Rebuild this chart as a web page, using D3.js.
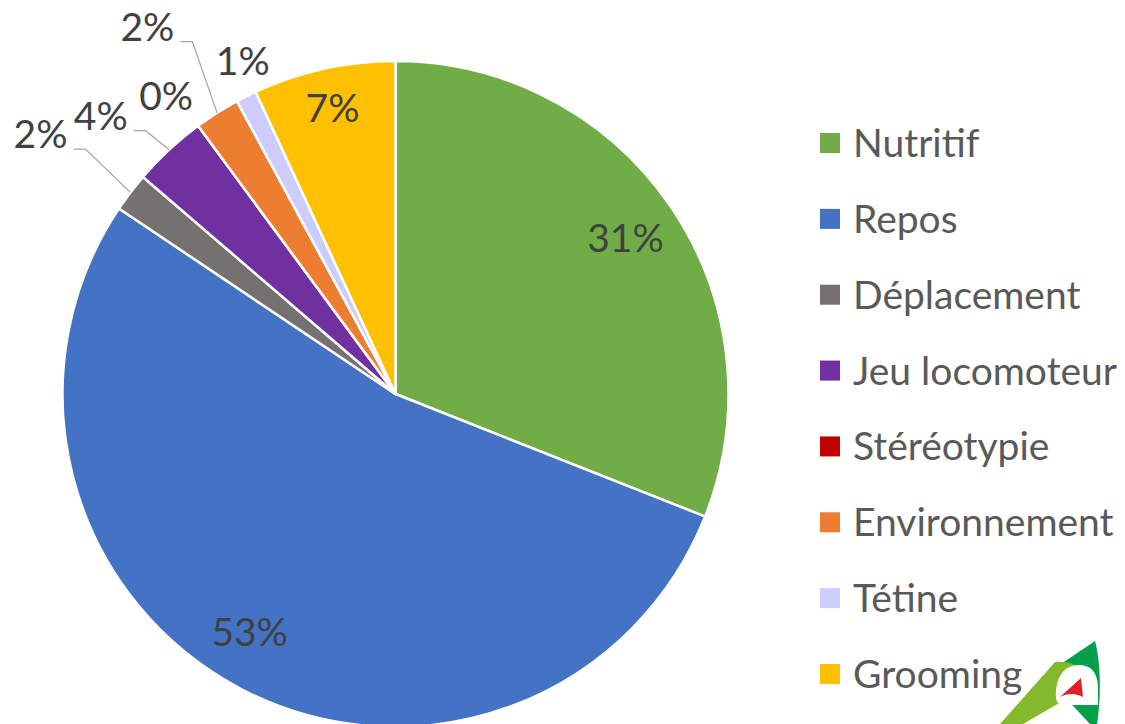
<!DOCTYPE html>
<html>
<head>
<meta charset="utf-8">
<script src="https://cdn.jsdelivr.net/npm/d3@7"></script>
<style>
  html, body { margin: 0; padding: 0; background: #fff; }
  svg { display: block; }
  text { font-family: Lato, "Open Sans", sans-serif; }
</style>
</head>
<body>
<svg id="chart" width="1125" height="724"></svg>
<script>
;(function() {
	"use strict";

	var categories = ["Nutritif", "Repos", "Déplacement", "Jeu locomoteur", "Stéréotypie", "Environnement", "Tétine", "Grooming"];
	var values = [31.0, 53.4, 1.9, 3.6, 0.0, 2.2, 1.0, 6.9];
	var colors = ["#70AD47", "#4472C4", "#767171", "#7030A0", "#C00000", "#ED7D31", "#CCCCFF", "#FFC000"];

	// label placement per slice: inside, outside, or outside with leader line
	var labelMode = ["in", "in", "leader", "leader", "out", "leader", "out", "in"];
	var labelRadius = [0.835, 0.838, 1.215, 1.115, 1.13, 1.24, 1.10, 0.88];
	var labelShift = [0, 3.8, 0, -2, -1.2, 1, 2, 0]; // degrees, nudges like Excel's best fit

	var width = 1125, height = 724,
		cx = 395.5, cy = 394, R = 333;

	var svg = d3.select("#chart");
	var g = svg.append("g").attr("transform", "translate(" + cx + "," + cy + ")");

	var rows = categories.map(function(c, i) {
		return { name: c, value: values[i], color: colors[i], mode: labelMode[i], lr: labelRadius[i], shift: labelShift[i] };
	});

	var pie = d3.pie().sort(null).value(function(d) { return d.value; });
	var arc = d3.arc().innerRadius(0).outerRadius(R);
	var arcs = pie(rows);

	g.selectAll("path.slice")
		.data(arcs)
		.enter().append("path")
		.attr("class", "slice")
		.attr("d", arc)
		.attr("fill", function(d) { return d.data.color; })
		.attr("stroke", "#fff")
		.attr("stroke-width", 2.5)
		.attr("stroke-linejoin", "round");

	function pt(angle, r) {
		return [Math.sin(angle) * r, -Math.cos(angle) * r];
	}

	var fontSize = 39;

	arcs.forEach(function(d) {
		var mid = (d.startAngle + d.endAngle) / 2,
			lab = mid + d.data.shift * Math.PI / 180,
			txt = d3.format(".0f")(d.data.value) + "%";

		if (d.data.mode === "leader") {
			var a = pt(lab, R * d.data.lr),
				edge = pt(mid, R * 1.0),
				elbow = [a[0] + 12, a[1]];
			g.append("polyline")
				.attr("points", [a, elbow, edge].map(function(p) { return p.join(","); }).join(" "))
				.attr("fill", "none")
				.attr("stroke", "#A6A6A6")
				.attr("stroke-width", 1.3);
			g.append("text")
				.attr("x", a[0] - 6)
				.attr("y", a[1] - 1)
				.attr("text-anchor", "end")
				.attr("font-size", fontSize)
				.attr("fill", "#404040")
				.text(txt);
		} else {
			var p = pt(lab, R * d.data.lr);
			g.append("text")
				.attr("x", p[0])
				.attr("y", p[1])
				.attr("dy", "0.36em")
				.attr("text-anchor", "middle")
				.attr("font-size", fontSize)
				.attr("fill", "#404040")
				.text(txt);
		}
	});

	// legend
	var legendY = d3.scalePoint().domain(categories).range([143, 674]);
	var legend = svg.append("g").selectAll("g.item")
		.data(rows)
		.enter().append("g")
		.attr("class", "item")
		.attr("transform", function(d) { return "translate(820," + legendY(d.name) + ")"; });

	legend.append("rect")
		.attr("x", 0).attr("y", -10)
		.attr("width", 20).attr("height", 20)
		.attr("fill", function(d) { return d.color; });

	legend.append("text")
		.attr("x", 33)
		.attr("dy", "0.36em")
		.attr("font-size", fontSize)
		.attr("fill", "#595959")
		.text(function(d) { return d.name; });

	// logo in the bottom-right corner
	var logo = svg.append("g");
	logo.append("path")
		.attr("d", "M1095,641 C1101,662 1101,700 1097,724 L1090,724 L1062,694 L1058,666 Z")
		.attr("fill", "#00A04B");
	logo.append("path")
		.attr("d", "M1000,724 L1055,662 C1066,661 1078,664 1084,672 L1068,698 L1023,724 Z")
		.attr("fill", "#84B92B");
	logo.append("path")
		.attr("d", "M1056,698 C1055,679 1063,665 1079,665 C1092,665 1098,674 1098,688 L1098,705 L1076,705 C1064,705 1057,707 1056,698 Z")
		.attr("fill", "#fff");
	logo.append("path")
		.attr("d", "M1060,697 L1081,678 L1083,697 C1076,693 1067,693 1060,697 Z")
		.attr("fill", "#E31E24");
})();
</script>
</body>
</html>
